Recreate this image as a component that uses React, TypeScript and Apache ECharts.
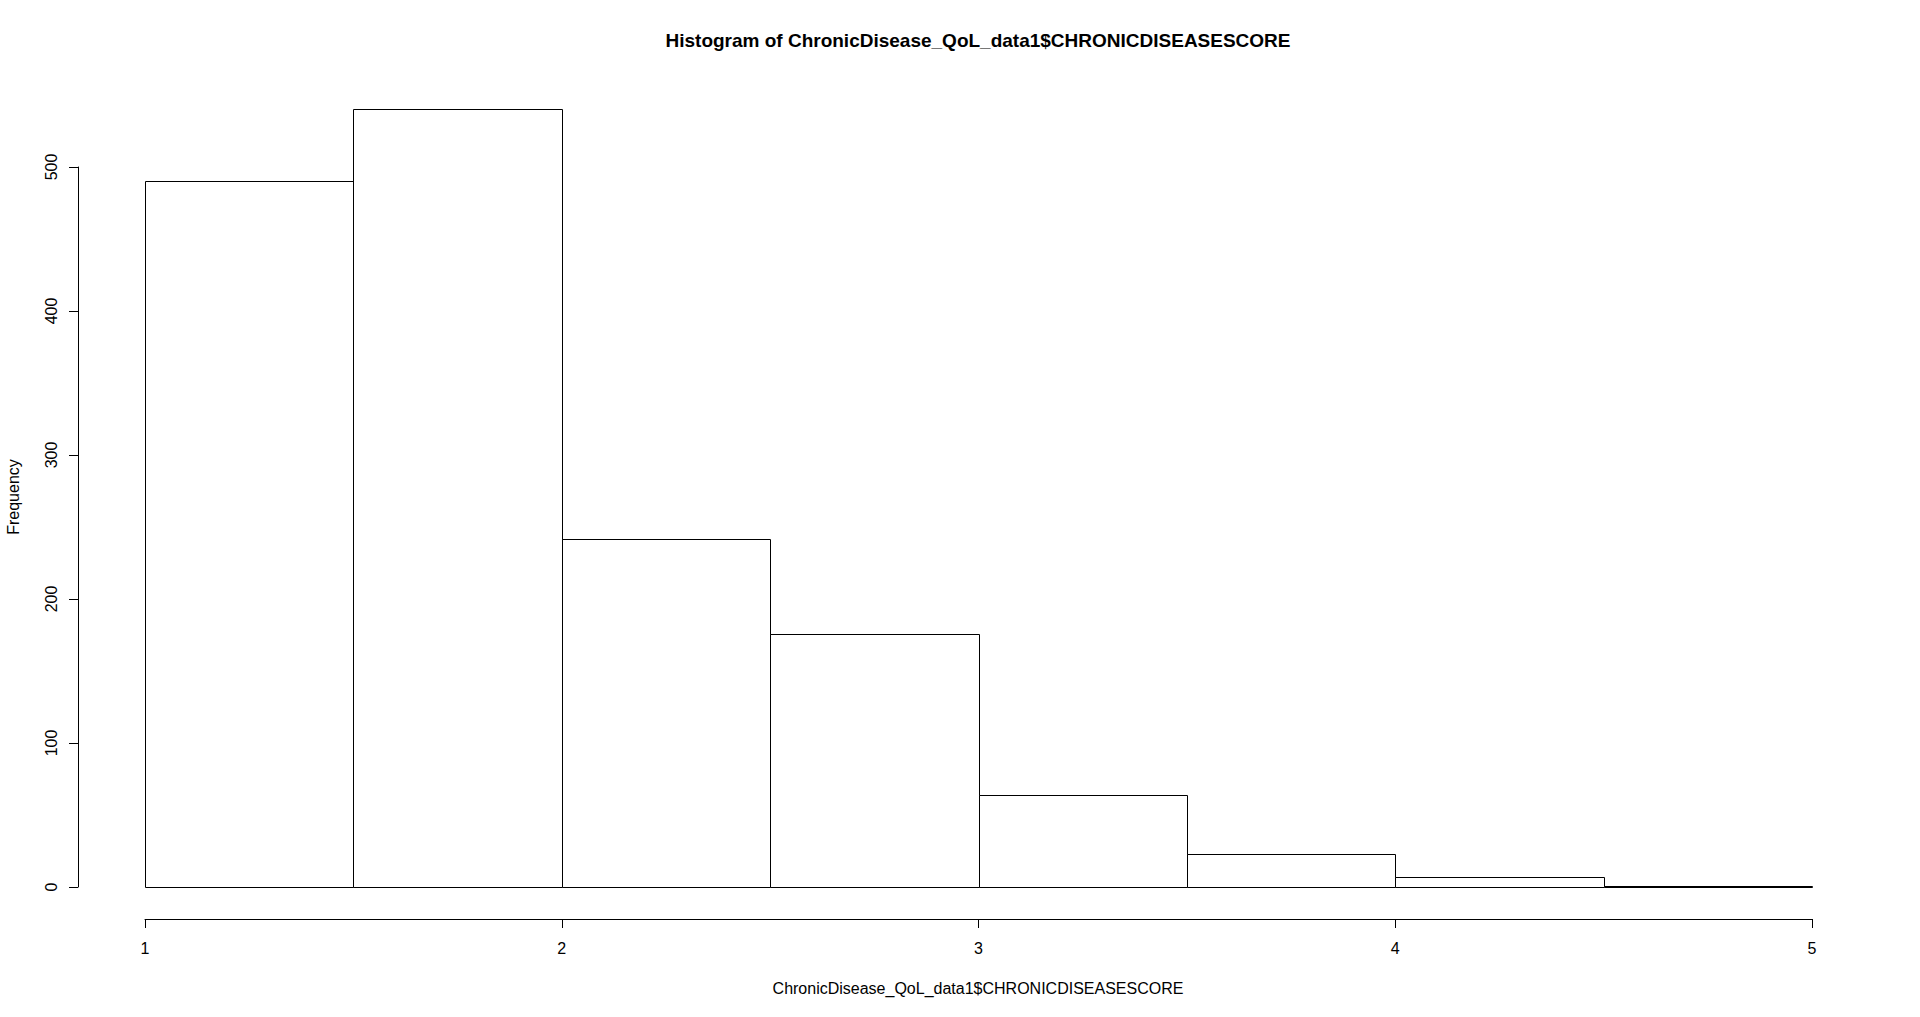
import React, { useEffect, useRef } from "react";
import * as echarts from "echarts";

// Histogram bins (left/right edges) and frequencies
const binStarts = [1, 1.5, 2, 2.5, 3, 3.5, 4, 4.5];
const binEnds = [1.5, 2, 2.5, 3, 3.5, 4, 4.5, 5];
const frequencies = [490, 540, 242, 176, 64, 23, 7, 1];

const xTicks = [1, 2, 3, 4, 5];
const yTicks = [0, 100, 200, 300, 400, 500];

const titleText = "Histogram of ChronicDisease_QoL_data1$CHRONICDISEASESCORE";
const xLabelText = "ChronicDisease_QoL_data1$CHRONICDISEASESCORE";
const yLabelText = "Frequency";

const FONT = "'Liberation Sans', Arial, sans-serif";

export default function App() {
  const ref = useRef<HTMLDivElement>(null);

  useEffect(() => {
    if (!ref.current) return;
    const chart = echarts.init(ref.current, null, { renderer: "svg" });
    const data = binStarts.map((s, i) => [s, binEnds[i], frequencies[i]]);
    const crisp = (v: number) => Math.round(v) + 0.5;

    chart.setOption({
      animation: false,
      backgroundColor: "#ffffff",
      grid: { left: 145, top: 167, width: 1667, height: 720, containLabel: false },
      xAxis: {
        type: "value",
        min: xTicks[0],
        max: xTicks[xTicks.length - 1],
        interval: 1,
        offset: 32,
        axisLine: { show: true, onZero: false, lineStyle: { color: "#000", width: 1 } },
        axisTick: { show: true, inside: false, length: 9, lineStyle: { color: "#000", width: 1 } },
        axisLabel: { show: true, color: "#000", fontSize: 16, fontFamily: FONT, margin: 21 },
        splitLine: { show: false },
      },
      yAxis: {
        type: "value",
        min: yTicks[0],
        max: yTicks[yTicks.length - 1],
        interval: 100,
        offset: 67,
        axisLine: { show: true, onZero: false, lineStyle: { color: "#000", width: 1 } },
        axisTick: { show: true, inside: false, length: 9, lineStyle: { color: "#000", width: 1 } },
        axisLabel: { show: true, color: "#000", fontSize: 16, fontFamily: FONT, rotate: 90, margin: 19 },
        splitLine: { show: false },
      },
      series: [
        {
          type: "custom",
          clip: false,
          data,
          renderItem: (params: any, api: any) => {
            const x0 = api.value(0);
            const x1 = api.value(1);
            const c = api.value(2);
            const p0 = api.coord([x0, c]);
            const p1 = api.coord([x1, 0]);
            const left = crisp(p0[0]);
            const right = crisp(p1[0]);
            const top = crisp(p0[1]);
            const bottom = crisp(p1[1]);
            return {
              type: "rect",
              shape: { x: left, y: top, width: right - left, height: bottom - top },
              style: { fill: "#ffffff", stroke: "#000000", lineWidth: 1 },
            };
          },
        },
      ],
      graphic: [
        {
          type: "text",
          x: 978,
          y: 40,
          style: {
            text: titleText,
            fill: "#000",
            font: `bold 19px ${FONT}`,
            align: "center",
            verticalAlign: "middle",
          },
        },
        {
          type: "text",
          x: 978,
          y: 988,
          style: {
            text: xLabelText,
            fill: "#000",
            font: `16px ${FONT}`,
            align: "center",
            verticalAlign: "middle",
          },
        },
        {
          type: "text",
          x: 13,
          y: 497,
          rotation: Math.PI / 2,
          style: {
            text: yLabelText,
            fill: "#000",
            font: `16px ${FONT}`,
            align: "center",
            verticalAlign: "middle",
          },
        },
      ],
    });

    return () => chart.dispose();
  }, []);

  return (
    <div
      ref={ref}
      style={{ position: "fixed", left: 0, top: 0, width: 1920, height: 1017, background: "#fff" }}
    />
  );
}
